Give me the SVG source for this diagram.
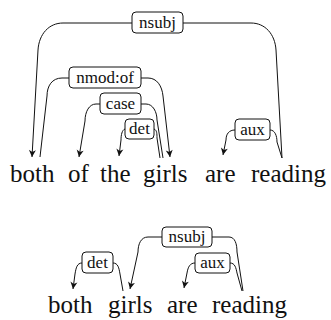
<svg xmlns="http://www.w3.org/2000/svg" width="331" height="320" viewBox="0 0 331 320">
  <style>
    .word { font-family: "Liberation Serif", "Times New Roman", serif; font-size: 25px; fill: #111; }
    .lbl { font-family: "Liberation Serif", "Times New Roman", serif; font-size: 17px; fill: #111; text-anchor: middle; }
    .box { fill: #fff; stroke: #111; stroke-width: 1; }
    .edge { fill: none; stroke: #111; stroke-width: 1; }
    .dep { marker-end: url(#arr); }
  </style>
  <defs>
    <marker id="arr" viewBox="-8 -4 9 8" refX="0" refY="0" markerWidth="9" markerHeight="8" markerUnits="userSpaceOnUse" orient="auto">
      <path d="M0,0 L-7,-3.5 L-5,0 L-7,3.5 Z" fill="#111"/>
    </marker>
  </defs>

  <!-- Sentence 1: both of the girls are reading -->
  <g id="s1-both"><text class="word" x="10" y="182">both</text></g>
  <g id="s1-of"><text class="word" x="68" y="182">of</text></g>
  <g id="s1-the"><text class="word" x="100" y="182">the</text></g>
  <g id="s1-girls"><text class="word" x="143" y="182">girls</text></g>
  <g id="s1-are"><text class="word" x="205" y="182">are</text></g>
  <g id="s1-reading"><text class="word" x="251" y="182">reading</text></g>

  <!-- Sentence 2: both girls are reading -->
  <g id="s2-both"><text class="word" x="48" y="313">both</text></g>
  <g id="s2-girls"><text class="word" x="108" y="313">girls</text></g>
  <g id="s2-are"><text class="word" x="167" y="313">are</text></g>
  <g id="s2-reading"><text class="word" x="212" y="313">reading</text></g>

  <g id="connectors">
    <!-- sentence 1 -->
    <g id="e1-nsubj">
      <path class="edge" d="M282,158 L276,50 C275,34 265,23 251,23 L183,23"/>
      <path class="edge dep" d="M132,23 L63,23 C49,23 39,34 38,50 L32,157"/>
      <rect class="box" x="132" y="12" width="51" height="21" rx="4"/>
      <text class="lbl" x="157.5" y="28">nsubj</text>
    </g>
    <g id="e1-nmod">
      <path class="edge" d="M69,78 L62,78 C52,78 47,86 47,96 L40,157"/>
      <path class="edge dep" d="M141,78 L148,78 C157,78 162,86 163,96 L170,157"/>
      <rect class="box" x="69" y="67" width="72" height="21" rx="4"/>
      <text class="lbl" x="105" y="83">nmod:of</text>
    </g>
    <g id="e1-case">
      <path class="edge" d="M141,104 L146,104 C153,104 157,112 157,120 L163,158"/>
      <path class="edge dep" d="M100,104 L96,104 C89,104 85,112 85,121 L79,157"/>
      <rect class="box" x="100" y="93" width="41" height="21" rx="4"/>
      <text class="lbl" x="120.5" y="109">case</text>
    </g>
    <g id="e1-det">
      <path class="edge" d="M154,129 C157,130 157,134 157,138 L160,158"/>
      <path class="edge dep" d="M125,129 C122,130 121,135 121,140 L119,156"/>
      <rect class="box" x="125" y="119" width="29" height="20" rx="4"/>
      <text class="lbl" x="139.5" y="134">det</text>
    </g>
    <g id="e1-aux">
      <path class="edge" d="M270,130 C275,130 277,136 277,142 L282,158"/>
      <path class="edge dep" d="M235,130 C229,130 226,134 226,140 L223,155"/>
      <rect class="box" x="235" y="119" width="35" height="21" rx="4"/>
      <text class="lbl" x="252.5" y="135">aux</text>
    </g>

    <!-- sentence 2 -->
    <g id="e2-det">
      <path class="edge" d="M113,263 C118,263 119,268 120,274 L123,291"/>
      <path class="edge dep" d="M82,263 C77,263 76,268 75,274 L73,289"/>
      <rect class="box" x="82" y="252" width="31" height="21" rx="4"/>
      <text class="lbl" x="97.5" y="268">det</text>
    </g>
    <g id="e2-nsubj">
      <path class="edge" d="M212,237 L229,237 C235,237 237,244 237,252 L243,291"/>
      <path class="edge dep" d="M162,237 L148,237 C141,237 138,244 138,252 L130,289"/>
      <rect class="box" x="162" y="227" width="50" height="20" rx="4"/>
      <text class="lbl" x="187" y="242">nsubj</text>
    </g>
    <g id="e2-aux">
      <path class="edge" d="M230,263 C235,263 236,268 237,273 L242,291"/>
      <path class="edge dep" d="M195,263 C190,263 188,267 187,273 L184,288"/>
      <rect class="box" x="195" y="253" width="35" height="20" rx="4"/>
      <text class="lbl" x="212.5" y="268">aux</text>
    </g>
  </g>
</svg>
